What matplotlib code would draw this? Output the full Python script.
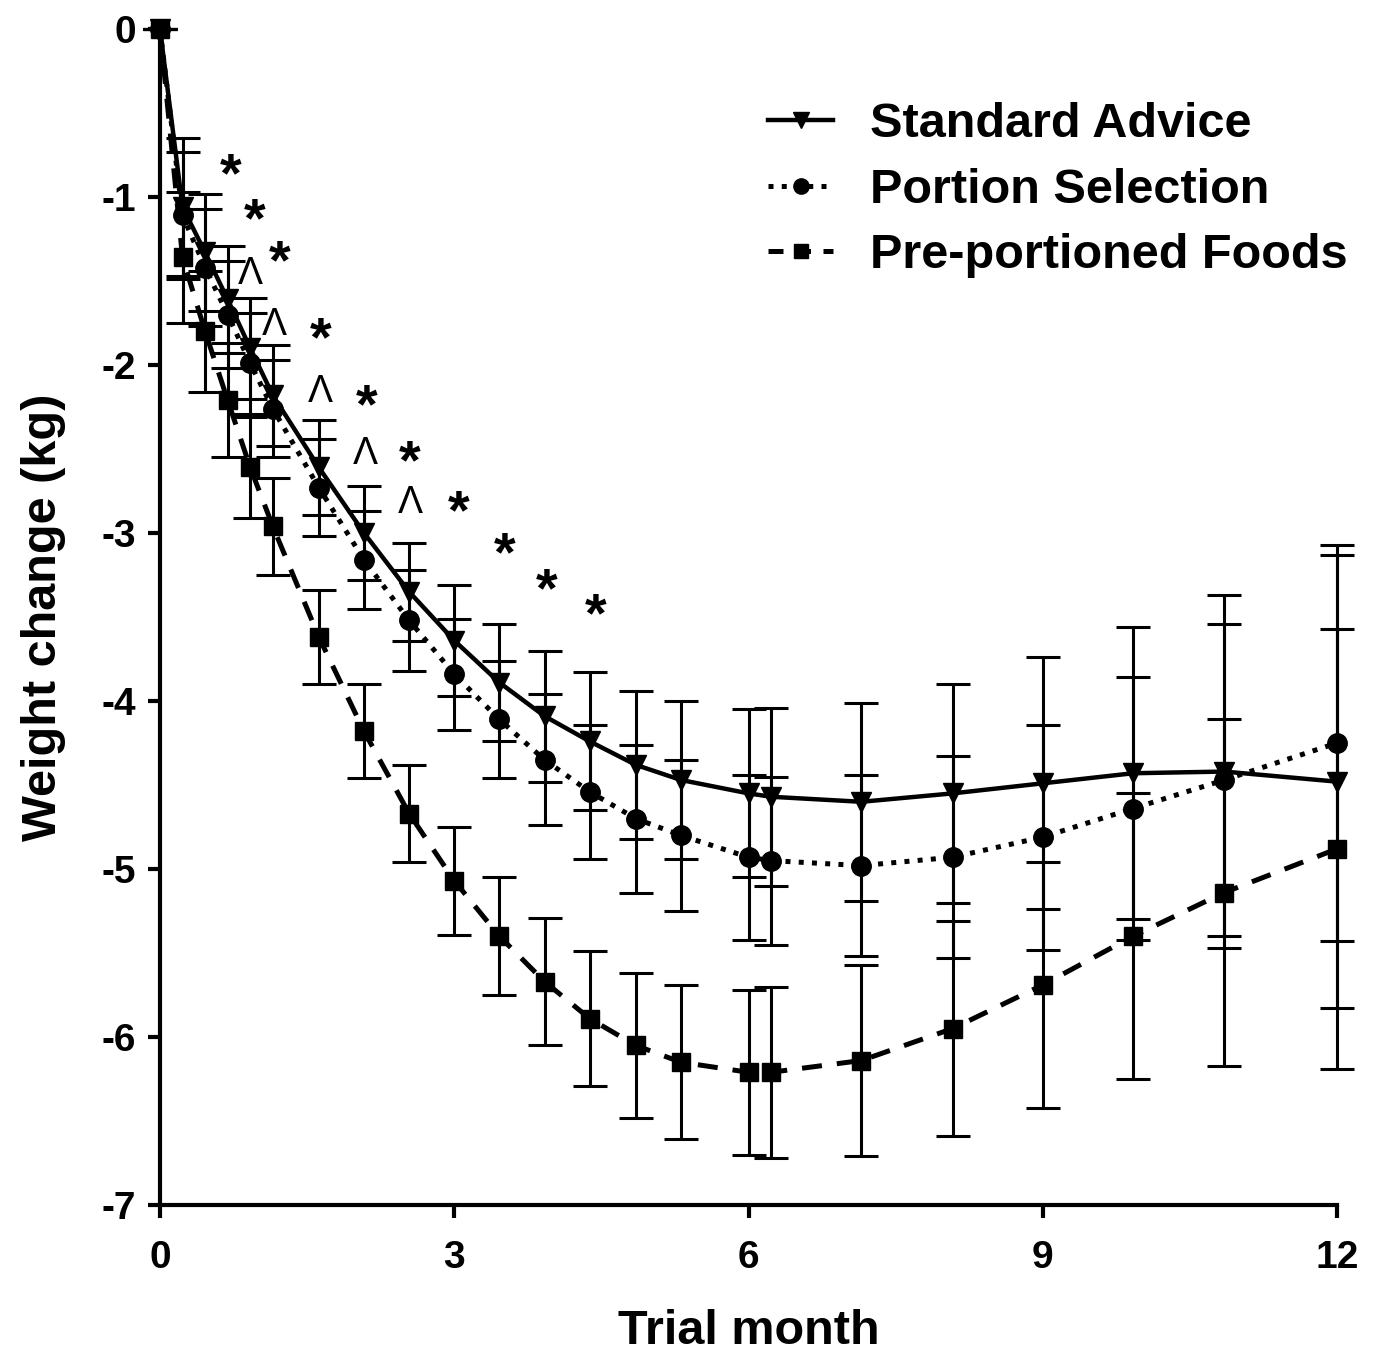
import numpy as np
import matplotlib
matplotlib.use("Agg")
import matplotlib.pyplot as plt
from matplotlib.lines import Line2D

plt.rcParams['font.family'] = ['Liberation Sans', 'DejaVu Sans']
plt.rcParams['font.weight'] = 'bold'
plt.rcParams['axes.unicode_minus'] = False

# Time points (months), weekly visits converted to months
months = [0, 0.23, 0.46, 0.69, 0.92, 1.15, 1.62, 2.08, 2.54, 3.0, 3.46, 3.92, 4.38,
          4.85, 5.31, 6.0, 6.23, 7.15, 8.08, 9.0, 9.92, 10.85, 12.0]

# Mean weight change (kg)
standard = [0, -1.06, -1.33, -1.61, -1.90, -2.18, -2.61, -3.00, -3.35, -3.64, -3.89,
            -4.09, -4.24, -4.38, -4.47, -4.55, -4.57, -4.60, -4.55, -4.49, -4.43, -4.42, -4.48]
portion = [0, -1.11, -1.42, -1.70, -1.99, -2.26, -2.73, -3.16, -3.52, -3.84, -4.11,
           -4.35, -4.54, -4.70, -4.80, -4.93, -4.95, -4.98, -4.93, -4.81, -4.64, -4.47, -4.25]
preportioned = [0, -1.36, -1.80, -2.21, -2.61, -2.96, -3.62, -4.18, -4.67, -5.07, -5.40,
                -5.67, -5.89, -6.05, -6.15, -6.21, -6.21, -6.14, -5.95, -5.69, -5.40, -5.14, -4.88]

# Error bars (kg)
standard_err = [0, 0.41, 0.35, 0.32, 0.30, 0.30, 0.28, 0.28, 0.29, 0.33, 0.35, 0.39, 0.41,
                0.44, 0.47, 0.50, 0.53, 0.59, 0.65, 0.75, 0.87, 1.05, 1.35]
portion_err = [0, 0.38, 0.35, 0.32, 0.30, 0.29, 0.29, 0.29, 0.30, 0.33, 0.35, 0.39, 0.40,
               0.44, 0.45, 0.49, 0.50, 0.54, 0.60, 0.67, 0.78, 0.93, 1.18]
preportioned_err = [0, 0.39, 0.36, 0.34, 0.30, 0.29, 0.28, 0.28, 0.29, 0.32, 0.35, 0.38, 0.40,
                    0.43, 0.46, 0.49, 0.51, 0.57, 0.64, 0.73, 0.85, 1.03, 1.31]

# significance marks
star_x = [0.72, 0.96, 1.22, 1.64, 2.11, 2.55, 3.04, 3.51, 3.94, 4.44]
star_y = [-0.88, -1.15, -1.40, -1.86, -2.26, -2.59, -2.89, -3.14, -3.35, -3.50]
caret_x = [0.92, 1.17, 1.63, 2.09, 2.55]
caret_y = [-1.46, -1.76, -2.16, -2.53, -2.82]

fig = plt.figure(figsize=(13.78, 13.55), dpi=100)
ax = fig.add_axes([0.1161, 0.1107, 0.8542, 0.8679])

common = dict(color='black', ecolor='black', elinewidth=2.2, capsize=12, capthick=2.2,
              clip_on=False)
ax.errorbar(months, standard, yerr=standard_err, fmt='-', marker='v', ms=14, lw=3.2, **common)
ax.errorbar(months, portion, yerr=portion_err, fmt=':', marker='o', ms=14, lw=3.6, **common)
ax.errorbar(months, preportioned, yerr=preportioned_err, fmt='--', marker='s', ms=13, lw=3.6,
            dashes=(4, 3), **common)

for x, y in zip(star_x, star_y):
    ax.text(x, y, '*', fontsize=40, fontweight='bold', ha='center', va='center')
for x, y in zip(caret_x, caret_y):
    ax.text(x, y, 'Λ', fontsize=27, fontweight='normal', ha='center', va='center')

ax.set_xlim(0, 12)
ax.set_ylim(-7, 0)
ax.set_xticks([0, 3, 6, 9, 12])
ax.set_yticks(range(-7, 1))
ax.spines['top'].set_visible(False)
ax.spines['right'].set_visible(False)
ax.spines['left'].set_linewidth(3)
ax.spines['bottom'].set_linewidth(3)
ax.tick_params(axis='both', width=3, length=9, labelsize=28)
ax.tick_params(axis='x', pad=16)
ax.tick_params(axis='y', pad=8)
for lab in ax.get_xticklabels() + ax.get_yticklabels():
    lab.set_fontweight('bold')

ax.set_xlabel('Trial month', fontsize=35, fontweight='bold', labelpad=24)
ax.set_ylabel('Weight change (kg)', fontsize=35, fontweight='bold', labelpad=26)

handles = [
    Line2D([], [], color='black', ls='-', lw=3.2, marker='v', ms=11),
    Line2D([], [], color='black', ls=':', lw=3.6, marker='o', ms=11),
    Line2D([], [], color='black', ls='--', lw=3.6, dashes=(3, 2.5), marker='s', ms=10),
]
labels = ['Standard Advice', 'Portion Selection', 'Pre-portioned Foods']
ax.legend(handles, labels, loc='upper right', bbox_to_anchor=(1.046, 0.975), frameon=False,
          fontsize=35, handlelength=1.35, handletextpad=0.75, labelspacing=0.42)

fig.savefig('out.png', dpi=100)
